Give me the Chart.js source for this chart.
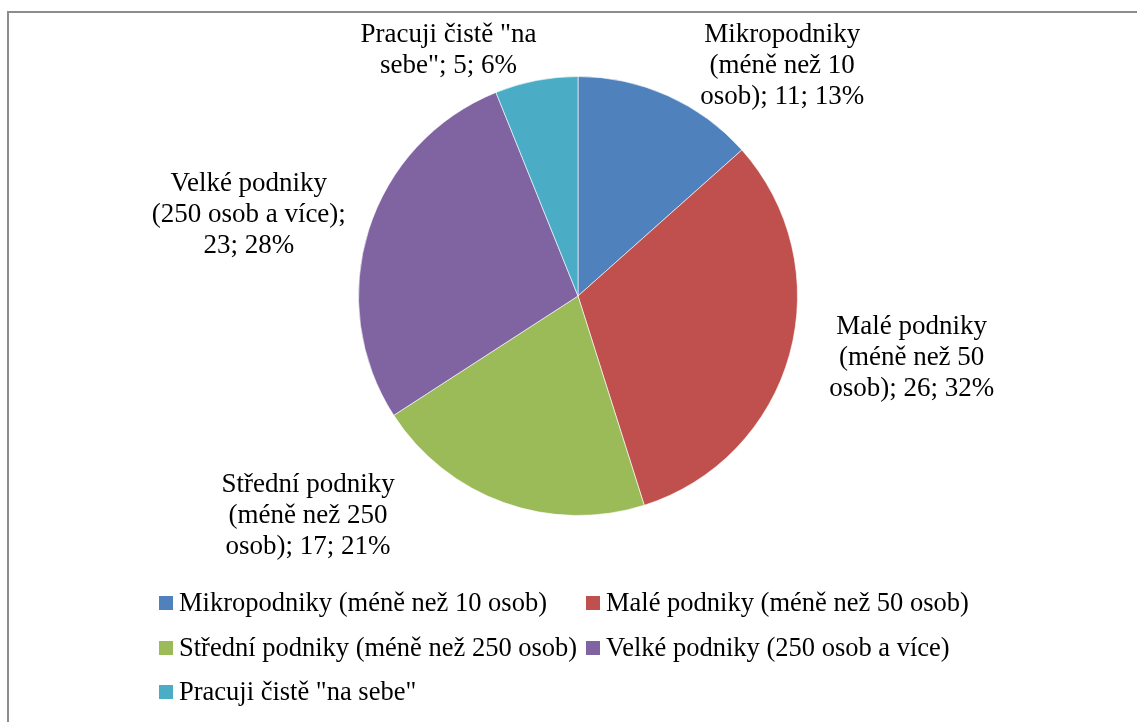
<!DOCTYPE html>
<html>
<head>
<meta charset="utf-8">
<script src="https://cdn.jsdelivr.net/npm/chart.js@4"></script>
<style>
  body { margin: 0; background: #fff; }
  canvas { display: block; }
</style>
</head>
<body>
<canvas id="pieCanvas" width="1137" height="722"></canvas>
<script>
const categories = [
    'Mikropodniky (méně než 10 osob)',
    'Malé podniky (méně než 50 osob)',
    'Střední podniky (méně než 250 osob)',
    'Velké podniky (250 osob a více)',
    'Pracuji čistě "na sebe"'
];
const counts = [11, 26, 17, 23, 5];
const colors = ['#4F81BD', '#C0504D', '#9BBB59', '#8064A2', '#4BACC6'];

// where each data label sits, relative to the pie centre (in radii)
const labelOffsets = [
    [0.93, -1.05],
    [1.52, 0.28],
    [-1.23, 1.00],
    [-1.50, -0.37],
    [-0.59, -1.12]
];

const LABEL_FONT = '27px "Liberation Serif", "Times New Roman", serif';
const LEGEND_FONT = '26.5px "Liberation Serif", "Times New Roman", serif';

const wrapText = (ctx, text, maxWidth) => {
    const words = text.split(' ');
    const lines = [];
    let line = '';
    words.forEach(w => {
        const test = line ? line + ' ' + w : w;
        if (line && ctx.measureText(test).width > maxWidth) {
            lines.push(line);
            line = w;
        } else {
            line = test;
        }
    });
    lines.push(line);
    return lines;
};

// grey frame around the chart (only left and top edges fall inside the canvas)
const framePlugin = {
    id: 'frame',
    beforeDraw(chart) {
        const ctx = chart.ctx;
        ctx.save();
        ctx.strokeStyle = '#8c8c8c';
        ctx.lineWidth = 2;
        ctx.strokeRect(8, 12, chart.width + 20, chart.height + 20);
        ctx.restore();
    }
};

const sliceLabels = {
    id: 'sliceLabels',
    afterDraw(chart) {
        const ctx = chart.ctx;
        const data = chart.data.datasets[0].data;
        const total = data.reduce((a, b) => a + b, 0);
        const arcs = chart.getDatasetMeta(0).data;
        ctx.save();
        ctx.font = LABEL_FONT;
        ctx.fillStyle = '#000';
        ctx.textAlign = 'center';
        ctx.textBaseline = 'middle';
        arcs.forEach((arc, i) => {
            const r = arc.outerRadius;
            const cx = arc.x + labelOffsets[i][0] * r;
            const cy = arc.y + labelOffsets[i][1] * r;
            const pct = Math.round(data[i] / total * 100);
            const text = `${chart.data.labels[i]}; ${data[i]}; ${pct}%`;
            const lines = wrapText(ctx, text, 200);
            const lh = 31;
            lines.forEach((ln, k) => {
                ctx.fillText(ln, cx, cy + (k - (lines.length - 1) / 2) * lh);
            });
        });
        ctx.restore();
    }
};

// legend laid out as a two-column grid
const gridLegend = {
    id: 'gridLegend',
    afterDraw(chart) {
        const ctx = chart.ctx;
        const colX = [159, 586];
        const rowY = [603, 648, 692];
        ctx.save();
        ctx.font = LEGEND_FONT;
        ctx.textAlign = 'left';
        ctx.textBaseline = 'middle';
        chart.data.labels.forEach((label, i) => {
            const x = colX[i % 2];
            const y = rowY[Math.floor(i / 2)];
            ctx.fillStyle = chart.data.datasets[0].backgroundColor[i];
            ctx.fillRect(x, y - 7, 14, 14);
            ctx.fillStyle = '#000';
            ctx.fillText(label, x + 20, y + 1);
        });
        ctx.restore();
    }
};

new Chart(document.getElementById('pieCanvas'), {
    type: 'pie',
    data: {
        labels: categories.map(c => c),
        datasets: [{
            data: counts,
            backgroundColor: colors,
            borderColor: 'rgba(255,255,255,0.6)',
            borderWidth: 1
        }]
    },
    options: {
        responsive: false,
        animation: false,
        layout: {
            padding: { top: 76, bottom: 206, left: 358, right: 339 }
        },
        plugins: {
            legend: { display: false },
            tooltip: { enabled: false }
        }
    },
    plugins: [framePlugin, sliceLabels, gridLegend]
});
</script>
</body>
</html>
